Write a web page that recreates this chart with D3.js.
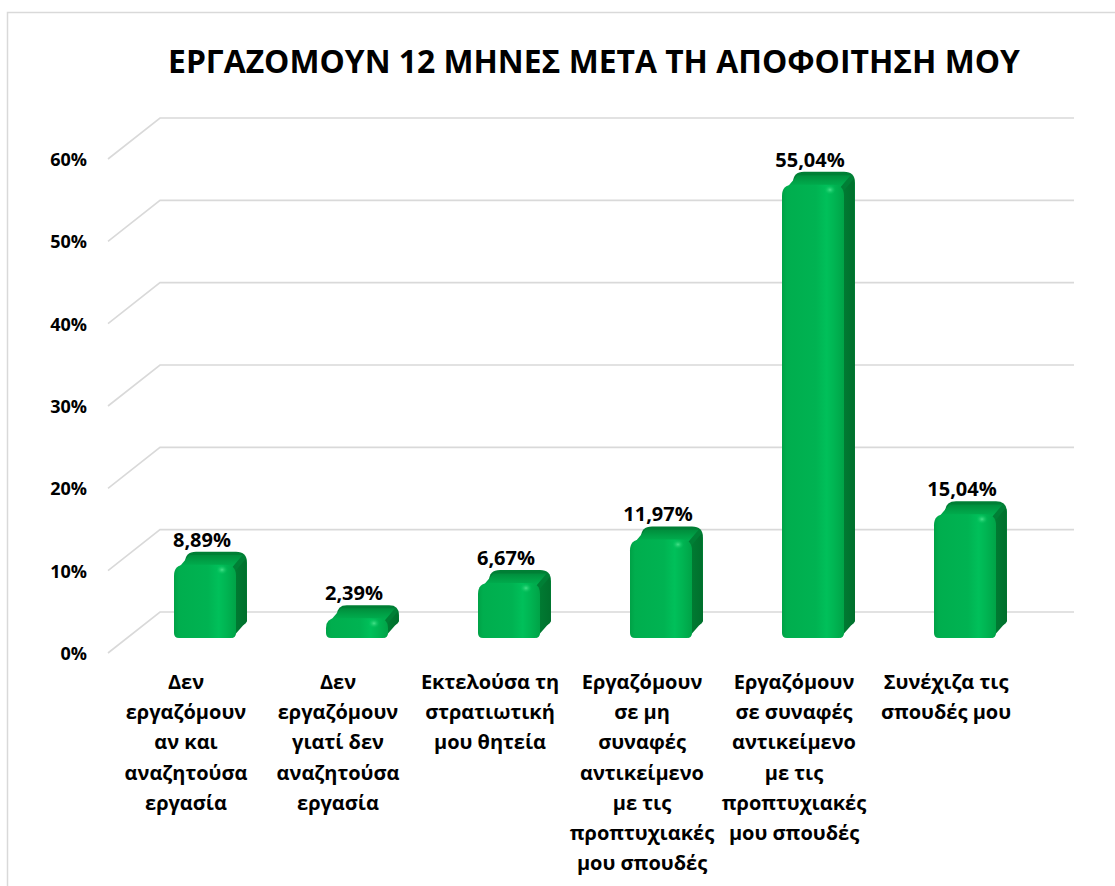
<!DOCTYPE html>
<html>
<head>
<meta charset="utf-8">
<script src="https://cdn.jsdelivr.net/npm/d3@7"></script>
<style>
  html, body { margin: 0; padding: 0; background: #fff; }
  svg { display: block; font-family: "Open Sans", "Noto Sans", sans-serif; }
</style>
</head>
<body>
<svg id="chart" width="1115" height="886"></svg>
<script>
// ---- data ----
const titleText = "ΕΡΓΑΖΟΜΟΥΝ 12 ΜΗΝΕΣ ΜΕΤΑ ΤΗ ΑΠΟΦΟΙΤΗΣΗ ΜΟΥ";
const categories = [
  "Δεν εργαζόμουν αν και αναζητούσα εργασία",
  "Δεν εργαζόμουν γιατί δεν αναζητούσα εργασία",
  "Εκτελούσα τη στρατιωτική μου θητεία",
  "Εργαζόμουν σε μη συναφές αντικείμενο με τις προπτυχιακές μου σπουδές",
  "Εργαζόμουν σε συναφές αντικείμενο με τις προπτυχιακές μου σπουδές",
  "Συνέχιζα τις σπουδές μου"
];
const categoryLines = [
  ["Δεν", "εργαζόμουν", "αν και", "αναζητούσα", "εργασία"],
  ["Δεν", "εργαζόμουν", "γιατί δεν", "αναζητούσα", "εργασία"],
  ["Εκτελούσα τη", "στρατιωτική", "μου θητεία"],
  ["Εργαζόμουν", "σε μη", "συναφές", "αντικείμενο", "με τις", "προπτυχιακές", "μου σπουδές"],
  ["Εργαζόμουν", "σε συναφές", "αντικείμενο", "με τις", "προπτυχιακές", "μου σπουδές"],
  ["Συνέχιζα τις", "σπουδές μου"]
];
const values = [8.89, 2.39, 6.67, 11.97, 55.04, 15.04];
const yTicks = [0, 10, 20, 30, 40, 50, 60];

// ---- layout ----
const svg = d3.select("#chart");
const W = 1115, H = 886;
svg.append("rect").attr("width", W).attr("height", H).attr("fill", "#fff");
// chart frame
svg.append("path").attr("d", `M7.5,${H} L7.5,12.5 L${W},12.5`)
  .attr("fill", "none").attr("stroke", "#d9d9d9").attr("stroke-width", 1.5);

// bar front plane value scale
const y = d3.scaleLinear().domain([0, 60]).range([638, 638 - 494]);
const x = d3.scalePoint().domain(categories).range([205, 965]);
const barW = 62, dx = 11, dy = -13;
const backShift = -26, frontShift = 15;   // back wall / floor front offsets
const wallX0 = 108, wallX1 = 160, wallXEnd = 1074;

// gridlines (perspective)
const grid = svg.append("g");
yTicks.forEach(t => {
  const yb = y(t) + backShift, yf = y(t) + frontShift;
  grid.append("path")
    .attr("d", `M${wallX0},${yf} L${wallX1},${yb} L${wallXEnd},${yb}`)
    .attr("fill", "none").attr("stroke", "#d9d9d9").attr("stroke-width", 1.6);
});

// y axis labels at floor-front positions
const yFront = d3.scaleLinear().domain(y.domain()).range(y.range().map(v => v + frontShift));
const yAxis = d3.axisLeft(yFront).tickValues(yTicks).tickSize(0).tickPadding(0)
  .tickFormat(d => d + "%");
const ga = svg.append("g").attr("transform", "translate(87,0)").call(yAxis);
ga.select(".domain").remove();
ga.selectAll("text").attr("font-family", "'Open Sans', sans-serif")
  .attr("font-size", 18).attr("font-weight", 700).attr("fill", "#000")
  .attr("dy", "0.36em");

// gradients
const defs = svg.append("defs");
const gFront = defs.append("linearGradient").attr("id", "gFront")
  .attr("x1", "0").attr("x2", "1").attr("y1", "0").attr("y2", "0");
[[0, "#00a146"], [0.08, "#00ae4e"], [0.55, "#00b352"], [0.72, "#00c05a"], [0.85, "#00b452"], [1, "#00a347"]]
  .forEach(([o, c]) => gFront.append("stop").attr("offset", o).attr("stop-color", c));
const gSide = defs.append("linearGradient").attr("id", "gSide")
  .attr("x1", "0").attr("x2", "1").attr("y1", "0").attr("y2", "0");
[[0, "#007e34"], [1, "#006f2c"]]
  .forEach(([o, c]) => gSide.append("stop").attr("offset", o).attr("stop-color", c));
const gTop = defs.append("linearGradient").attr("id", "gTop")
  .attr("x1", "0").attr("x2", "0").attr("y1", "1").attr("y2", "0");
[[0, "#00b352"], [0.5, "#00a247"], [1, "#008d3c"]]
  .forEach(([o, c]) => gTop.append("stop").attr("offset", o).attr("stop-color", c));
const gSpec = defs.append("radialGradient").attr("id", "gSpec");
gSpec.append("stop").attr("offset", 0).attr("stop-color", "#4ee68f").attr("stop-opacity", 0.9);
gSpec.append("stop").attr("offset", 1).attr("stop-color", "#00c05a").attr("stop-opacity", 0);

function roundedTopRect(x0, y0, w, h, r, rb) {
  r = Math.min(r, h / 2, w / 2);
  rb = Math.min(rb, h / 2);
  return `M${x0},${y0 + h - rb} L${x0},${y0 + r} Q${x0},${y0} ${x0 + r},${y0}
    L${x0 + w - r},${y0} Q${x0 + w},${y0} ${x0 + w},${y0 + r}
    L${x0 + w},${y0 + h - rb} Q${x0 + w},${y0 + h} ${x0 + w - rb},${y0 + h}
    L${x0 + rb},${y0 + h} Q${x0},${y0 + h} ${x0},${y0 + h - rb} Z`;
}

const bars = svg.append("g");
categories.forEach((c, i) => {
  const v = values[i];
  const cx = x(c);
  const x0 = cx - barW / 2, x1 = cx + barW / 2;
  const yT = y(v), yB = y(0);
  const h = yB - yT;
  const r = Math.min(11, h / 2);
  const g = bars.append("g");
  // back silhouette (gives rounded back corners)
  g.append("path").attr("d", roundedTopRect(x0 + dx, yT + dy, barW, h, r, 6))
    .attr("fill", "#007f35");
  // top face
  g.append("path")
    .attr("d", `M${x0 + r * 0.4},${yT + r * 0.3} L${x1 - r * 0.4},${yT + r * 0.3}
      L${x1 - r * 0.4 + dx},${yT + r * 0.3 + dy} L${x0 + r * 0.4 + dx},${yT + r * 0.3 + dy} Z`)
    .attr("fill", "url(#gTop)");
  // side face
  g.append("path")
    .attr("d", `M${x1 - 1},${yT + r * 0.6} L${x1 - 1 + dx},${yT + r * 0.6 + dy}
      L${x1 + dx},${yB + dy - 4} L${x1 - 4},${yB} Z`)
    .attr("fill", "url(#gSide)");
  // front face
  g.append("path").attr("d", roundedTopRect(x0, yT, barW, h, r, 5))
    .attr("fill", "url(#gFront)");
  // specular highlight near top right
  g.append("ellipse").attr("cx", x1 - 14).attr("cy", yT + Math.min(5, h / 3))
    .attr("rx", 6).attr("ry", Math.min(5, h / 3)).attr("fill", "url(#gSpec)");
});

// data labels
const fmt = v => v.toFixed(2).replace(".", ",") + "%";
svg.append("g").selectAll("text").data(values).join("text")
  .attr("x", (d, i) => x(categories[i]) - 3)
  .attr("y", d => y(d) + dy - 5)
  .attr("text-anchor", "middle")
  .attr("font-size", 20).attr("font-weight", 700).attr("fill", "#000")
  .text(d => fmt(d));

// category labels
const catG = svg.append("g");
categories.forEach((c, i) => {
  const t = catG.append("text")
    .attr("x", x(c) - 19).attr("y", 689)
    .attr("text-anchor", "middle")
    .attr("font-size", 20).attr("font-weight", 700).attr("fill", "#000");
  categoryLines[i].forEach((line, j) => {
    t.append("tspan").attr("x", x(c) - 19).attr("y", 689 + j * 30.2).text(line);
  });
});

// title (fit to measured width)
const title = svg.append("text")
  .attr("x", 594).attr("y", 73).attr("text-anchor", "middle")
  .attr("font-size", 30).attr("font-weight", 700).attr("fill", "#000")
  .text(titleText);
const tw = title.node().getComputedTextLength();
title.attr("font-size", 30 * 852 / tw);
</script>
</body>
</html>
